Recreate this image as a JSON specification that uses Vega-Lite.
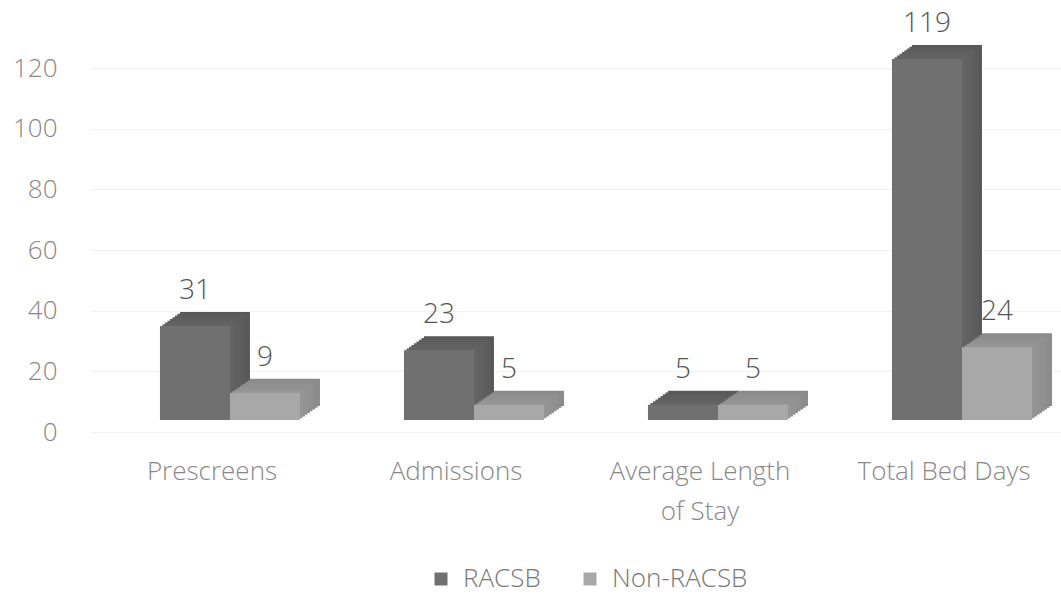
{
  "$schema": "https://vega.github.io/schema/vega-lite/v6.json",
  "autosize": "none",
  "width": 976,
  "height": 364,
  "padding": {"left": 90, "top": 68, "right": 0, "bottom": 171},
  "background": "#ffffff",
  "config": {
    "view": {"stroke": null},
    "font": "Open Sans"
  },
  "data": {
    "values": [
      {"measure": "Prescreens", "group": "RACSB", "value": 31},
      {"measure": "Prescreens", "group": "Non-RACSB", "value": 9},
      {"measure": "Admissions", "group": "RACSB", "value": 23},
      {"measure": "Admissions", "group": "Non-RACSB", "value": 5},
      {"measure": "Average Length of Stay", "group": "RACSB", "value": 5},
      {"measure": "Average Length of Stay", "group": "Non-RACSB", "value": 5},
      {"measure": "Total Bed Days", "group": "RACSB", "value": 119},
      {"measure": "Total Bed Days", "group": "Non-RACSB", "value": 24}
    ]
  },
  "resolve": {"scale": {"color": "independent", "xOffset": "independent"}},
  "encoding": {
    "x": {
      "field": "measure",
      "type": "nominal",
      "sort": null,
      "scale": {"paddingInner": 0.426, "paddingOuter": 0.213},
      "axis": {
        "title": null,
        "domain": false,
        "ticks": false,
        "labelAngle": 0,
        "labelFont": "Open Sans",
        "labelFontWeight": 300,
        "labelFontSize": 26,
        "labelColor": "#888888",
        "labelPadding": 26,
        "labelLineHeight": 40,
        "labelLimit": 400,
        "labelExpr": "datum.label == 'Average Length of Stay' ? ['Average Length', 'of Stay'] : datum.label"
      }
    },
    "y": {
      "field": "value",
      "type": "quantitative",
      "scale": {"domain": [0, 120]},
      "axis": {
        "title": null,
        "domain": false,
        "ticks": false,
        "values": [0, 20, 40, 60, 80, 100, 120],
        "labelFont": "Open Sans",
        "labelFontWeight": 300,
        "labelFontSize": 26,
        "labelColor": "#888888",
        "labelPadding": 33,
        "gridColor": "#f1f1f1",
        "gridWidth": 1
      }
    }
  },
  "layer": [
    {
      "mark": {"type": "bar", "yOffset": -26},
      "encoding": {
        "xOffset": {"field": "group", "type": "nominal", "sort": ["RACSB", "Non-RACSB"], "scale": {"range": [38, 178]}},
        "color": {"field": "group", "type": "nominal", "scale": {"domain": ["RACSB", "Non-RACSB"], "range": ["#585858", "#8a8a8a"]}, "legend": null}
      }
    },
    {
      "mark": {"type": "bar", "yOffset": -24.25},
      "encoding": {
        "xOffset": {"field": "group", "type": "nominal", "sort": ["RACSB", "Non-RACSB"], "scale": {"range": [35.5, 175.5]}},
        "color": {"field": "group", "type": "nominal", "scale": {"domain": ["RACSB", "Non-RACSB"], "range": ["#5a5a5a", "#8c8c8c"]}, "legend": null}
      }
    },
    {
      "mark": {"type": "bar", "yOffset": -22.5},
      "encoding": {
        "xOffset": {"field": "group", "type": "nominal", "sort": ["RACSB", "Non-RACSB"], "scale": {"range": [33, 173]}},
        "color": {"field": "group", "type": "nominal", "scale": {"domain": ["RACSB", "Non-RACSB"], "range": ["#5c5c5c", "#8e8e8e"]}, "legend": null}
      }
    },
    {
      "mark": {"type": "bar", "yOffset": -20.75},
      "encoding": {
        "xOffset": {"field": "group", "type": "nominal", "sort": ["RACSB", "Non-RACSB"], "scale": {"range": [30.5, 170.5]}},
        "color": {"field": "group", "type": "nominal", "scale": {"domain": ["RACSB", "Non-RACSB"], "range": ["#5e5e5e", "#909090"]}, "legend": null}
      }
    },
    {
      "mark": {"type": "bar", "yOffset": -19},
      "encoding": {
        "xOffset": {"field": "group", "type": "nominal", "sort": ["RACSB", "Non-RACSB"], "scale": {"range": [28, 168]}},
        "color": {"field": "group", "type": "nominal", "scale": {"domain": ["RACSB", "Non-RACSB"], "range": ["#5f5f5f", "#919191"]}, "legend": null}
      }
    },
    {
      "mark": {"type": "bar", "yOffset": -17.25},
      "encoding": {
        "xOffset": {"field": "group", "type": "nominal", "sort": ["RACSB", "Non-RACSB"], "scale": {"range": [25.5, 165.5]}},
        "color": {"field": "group", "type": "nominal", "scale": {"domain": ["RACSB", "Non-RACSB"], "range": ["#606060", "#929292"]}, "legend": null}
      }
    },
    {
      "mark": {"type": "bar", "yOffset": -15.5},
      "encoding": {
        "xOffset": {"field": "group", "type": "nominal", "sort": ["RACSB", "Non-RACSB"], "scale": {"range": [23, 163]}},
        "color": {"field": "group", "type": "nominal", "scale": {"domain": ["RACSB", "Non-RACSB"], "range": ["#626262", "#949494"]}, "legend": null}
      }
    },
    {
      "mark": {"type": "bar", "yOffset": -13.75},
      "encoding": {
        "xOffset": {"field": "group", "type": "nominal", "sort": ["RACSB", "Non-RACSB"], "scale": {"range": [20.5, 160.5]}},
        "color": {"field": "group", "type": "nominal", "scale": {"domain": ["RACSB", "Non-RACSB"], "range": ["#646464", "#969696"]}, "legend": null}
      }
    },
    {
      "mark": {"type": "bar", "yOffset": -12},
      "encoding": {
        "xOffset": {"field": "group", "type": "nominal", "sort": ["RACSB", "Non-RACSB"], "scale": {"range": [18, 158]}},
        "color": {
          "field": "group",
          "type": "nominal",
          "sort": ["RACSB", "Non-RACSB"],
          "scale": {"domain": ["RACSB", "Non-RACSB"], "range": ["#707070", "#a8a8a8"]},
          "legend": {
            "title": null,
            "orient": "none",
            "direction": "horizontal",
            "legendX": 338,
            "legendY": 498,
            "symbolType": "square",
            "symbolSize": 169,
            "labelFont": "Open Sans",
            "labelFontWeight": 300,
            "labelFontSize": 26,
            "labelColor": "#777777",
            "columnPadding": 36,
            "labelOffset": 9
          }
        }
      }
    },
    {
      "mark": {"type": "text", "baseline": "bottom", "dy": -33, "fontSize": 28, "fontWeight": 300, "font": "Open Sans", "color": "#555555"},
      "encoding": {
        "xOffset": {"field": "group", "type": "nominal", "sort": ["RACSB", "Non-RACSB"], "scale": {"range": [18, 158]}},
        "text": {"field": "value", "type": "quantitative"}
      }
    }
  ]
}
